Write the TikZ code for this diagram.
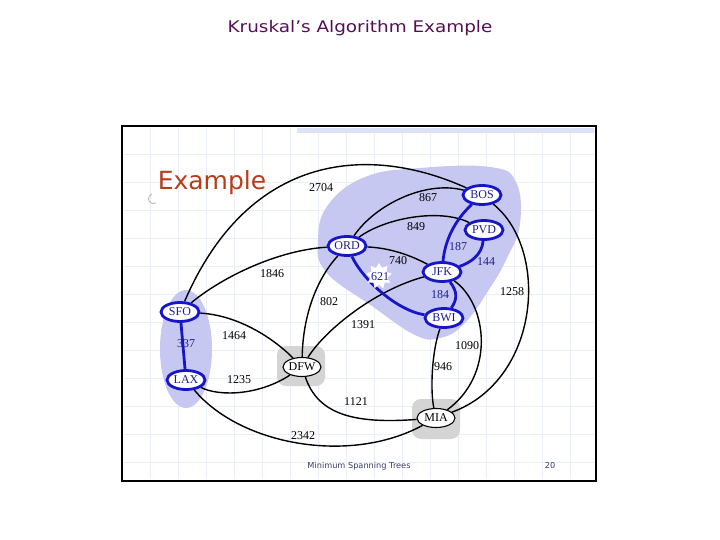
\documentclass[tikz,border=0pt]{standalone}
\usepackage{fontspec}
\setmainfont{Liberation Serif}
\newfontfamily\slidesans{DejaVu Sans}
\newfontfamily\titlesans[FakeStretch=1.15]{DejaVu Sans}
\usetikzlibrary{shapes.geometric}
\pgfdeclarelayer{slide}
\pgfdeclarelayer{roads}
\pgfsetlayers{slide,roads,main}
\definecolor{mstblue}{RGB}{22,22,200}
\definecolor{citytext}{RGB}{30,30,140}
\definecolor{blobblue}{RGB}{198,200,242}
\definecolor{halogray}{RGB}{212,212,212}
\definecolor{gridline}{RGB}{234,238,246}
\definecolor{stripblue}{RGB}{222,226,246}
\definecolor{titlepurple}{RGB}{85,15,85}
\definecolor{examplered}{RGB}{180,62,28}
\definecolor{footgray}{RGB}{60,60,100}
\tikzset{
  city/.style={ellipse,draw=mstblue,line width=2.8pt,fill=white,text=citytext,
    font=\fontsize{12}{12}\selectfont,inner sep=0pt,minimum width=38pt,minimum height=19pt},
  hub/.style={city,draw=black,line width=1.1pt,text=black},
  halo/.style={fill=halogray,rounded corners=9pt,minimum width=48pt,minimum height=40pt},
  road/.style={black,line width=1.4pt},
  mst/.style={mstblue,line width=2.8pt},
  cost/.style={font=\fontsize{12}{12}\selectfont,inner sep=0pt},
  mstcost/.style={cost,text=citytext},
  footnote/.style={text=footgray,font=\slidesans\fontsize{8.2}{8.2}\selectfont},
}
\begin{document}
\begin{tikzpicture}[x=1pt,y=-1pt]
      \useasboundingbox (0,0) rectangle (720,540);
      \node[text=titlepurple,font=\titlesans\fontsize{16}{16}\selectfont] (title) at (360,28) {Kruskal’s Algorithm Example};
      % slide background and clusters
      \begin{pgfonlayer}{slide}
        \fill[white] (122,126) rectangle (596,481);
        \foreach \gx in {150,178,...,590}
          \draw[gridline,line width=0.6pt] (\gx,128) -- (\gx,479);
        \foreach \gy in {154,182,...,478}
          \draw[gridline,line width=0.6pt] (124,\gy) -- (594,\gy);
        \fill[stripblue] (297,128) rectangle (594,133);
        \draw[gray!60,line width=0.8pt] (156,203) arc (60:250:5);
        \fill[blobblue] plot[smooth cycle,tension=0.7] coordinates {(328,205) (365,177) (420,168) (490,167) (516,182) (520,224) (507,258) (490,288) (464,324) (440,338) (415,335) (372,306) (326,272) (318,240)};
        \fill[blobblue] (186,349) ellipse (26 and 59);
        \node[halo] (dfwhalo) at (301,366) {};
        \node[halo] (miahalo) at (436,419) {};
      \end{pgfonlayer}
      \node[examplered,font=\slidesans\fontsize{25}{25}\selectfont] (heading) at (212,183) {Example};
      \draw
        (482,195) node[city] (bos){BOS}
        (484,230) node[city] (pvd){PVD}
        (347,246) node[city] (ord){ORD}
        (442,272) node[city] (jfk){JFK}
        (444,318) node[city] (bwi){BWI}
        (180,312) node[city] (sfo){SFO}
        (186,380) node[city] (lax){LAX}
        (302,367) node[hub] (dfw){DFW}
        (436,418) node[hub] (mia){MIA};
      \begin{pgfonlayer}{roads}
      \begin{scope}[-]
        \draw[road] (sfo) .. controls (250,150) and (372,145) .. (bos);
        \draw[road] (ord) .. controls (375,205) and (425,180) .. (bos);
        \draw[road] (ord) .. controls (385,218) and (440,208) .. (pvd);
        \draw[road] (ord) .. controls (390,248) and (410,255) .. (jfk);
        \draw[road] (dfw) .. controls (325,330) and (375,290) .. (jfk);
        \draw[road] (dfw) .. controls (303,310) and (320,275) .. (ord);
        \draw[road] (sfo) .. controls (225,275) and (280,250) .. (ord);
        \draw[road] (sfo) .. controls (235,315) and (270,335) .. (dfw);
        \draw[road] (lax) .. controls (220,397) and (260,395) .. (dfw);
        \draw[road] (lax) .. controls (240,445) and (350,465) .. (mia);
        \draw[road] (dfw) .. controls (318,415) and (355,424) .. (mia);
        \draw[road] (bwi) .. controls (432,350) and (430,390) .. (mia);
        \draw[road] (jfk) .. controls (488,305) and (495,375) .. (mia);
        \draw[road] (bos) .. controls (550,250) and (540,380) .. (mia);
        \draw[mst] (ord) .. controls (362,278) and (395,310) .. (bwi);
        \draw[mst] (bos) .. controls (455,220) and (445,240) .. (jfk);
        \draw[mst] (pvd) .. controls (482,255) and (470,263) .. (jfk);
        \draw[mst] (jfk) .. controls (458,292) and (457,300) .. (bwi);
        \draw[mst] (sfo) to (lax);
      \end{scope}
      \end{pgfonlayer}
      % edge costs
      \node[star,star points=9,star point ratio=1.5,fill=white,minimum size=26pt,inner sep=0pt] (star621) at (379,276) {};
      \draw
        (321,188) node[cost] (c2704){2704}
        (428,198) node[cost] (c867){867}
        (416,227) node[cost] (c849){849}
        (398,261) node[cost] (c740){740}
        (380,277) node[mstcost] (c621){621}
        (458,247) node[mstcost] (c187){187}
        (486,262) node[mstcost] (c144){144}
        (440,295) node[mstcost] (c184){184}
        (512,292) node[cost] (c1258){1258}
        (363,325) node[cost] (c1391){1391}
        (329,302) node[cost] (c802){802}
        (272,274) node[cost] (c1846){1846}
        (234,336) node[cost] (c1464){1464}
        (186,344) node[mstcost] (c337){337}
        (239,380) node[cost] (c1235){1235}
        (303,436) node[cost] (c2342){2342}
        (356,402) node[cost] (c1121){1121}
        (443,367) node[cost] (c946){946}
        (467,346) node[cost] (c1090){1090};
      \node[footnote] (footer) at (359,466) {Minimum Spanning Trees};
      \node[footnote] (pageno) at (550,466) {20};
      \draw[black,line width=2.6pt] (122,126) rectangle (596,481);
    \end{tikzpicture}
\end{document}
